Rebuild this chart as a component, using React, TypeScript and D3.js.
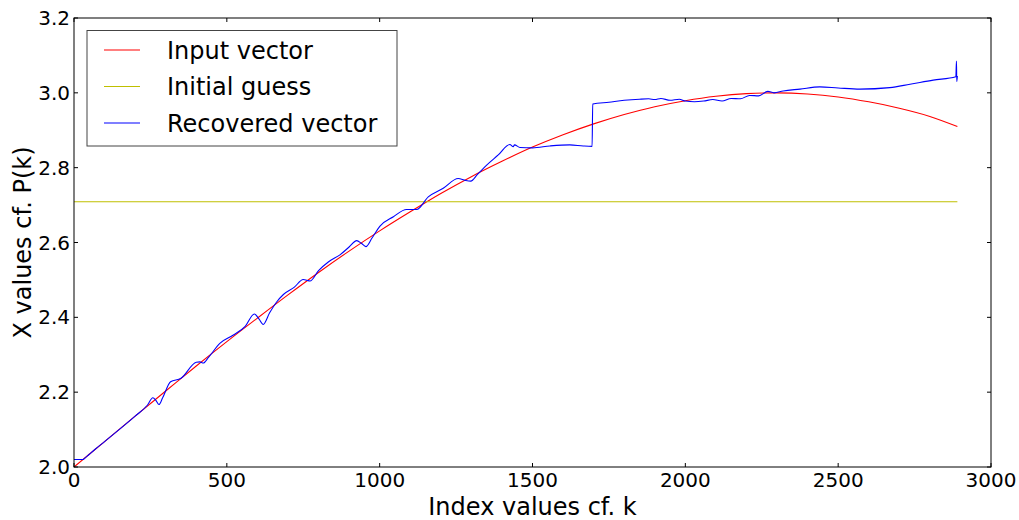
import React from "react";
import * as d3 from "d3";

const xTicks = [0, 500, 1000, 1500, 2000, 2500, 3000];
const yTicks = [2.0, 2.2, 2.4, 2.6, 2.8, 3.0, 3.2];

const inputX = [0, 100, 200, 300, 400, 500, 600, 700, 800, 900, 1000, 1100, 1200, 1300, 1400, 1500, 1600, 1700, 1800, 1900, 2000, 2100, 2200, 2300, 2400, 2500, 2600, 2700, 2800, 2890];
const inputY = [2.0, 2.068, 2.136, 2.203, 2.27, 2.335, 2.398, 2.46, 2.52, 2.577, 2.631, 2.682, 2.731, 2.776, 2.817, 2.855, 2.888, 2.917, 2.942, 2.963, 2.979, 2.991, 2.998, 3.0, 2.997, 2.989, 2.976, 2.959, 2.937, 2.91];

const guessX = [0, 2890];
const guessY = [2.709, 2.709];

const recX = [0, 30, 33, 50, 70, 100, 200, 240, 258, 268, 278, 290, 316, 350, 400, 412, 423, 440, 478, 520, 560, 590, 605, 619, 640, 663, 685, 720, 750, 762, 772, 800, 832, 870, 900, 925, 940, 955, 975, 1001, 1045, 1088, 1121, 1159, 1208, 1257, 1280, 1298, 1320, 1350, 1388, 1426, 1437, 1441, 1459, 1500, 1557, 1622, 1666, 1695, 1697, 1750, 1800, 1850, 1880, 1900, 1920, 1950, 1980, 2000, 2030, 2060, 2090, 2120, 2150, 2180, 2210, 2240, 2270, 2290, 2320, 2375, 2440, 2500, 2571, 2669, 2735, 2811, 2885, 2887, 2888, 2890];
const recY = [2.02, 2.02, 2.022, 2.034, 2.048, 2.068, 2.136, 2.165, 2.185, 2.178, 2.167, 2.185, 2.228, 2.237, 2.28, 2.281, 2.278, 2.293, 2.331, 2.352, 2.376, 2.409, 2.396, 2.381, 2.412, 2.441, 2.461, 2.48, 2.501, 2.499, 2.497, 2.525, 2.548, 2.567, 2.588, 2.605, 2.598, 2.589, 2.612, 2.644, 2.669, 2.688, 2.688, 2.722, 2.745, 2.771, 2.766, 2.764, 2.782, 2.807, 2.834, 2.862, 2.856, 2.861, 2.854, 2.853, 2.858, 2.861, 2.858, 2.857, 2.97, 2.975, 2.98, 2.983, 2.984, 2.982, 2.985, 2.98, 2.983, 2.978, 2.976, 2.978, 2.982, 2.978, 2.985, 2.984, 2.993, 2.992, 3.004, 3.0, 3.005, 3.01, 3.016, 3.013, 3.01, 3.014, 3.023, 3.034, 3.043, 3.085, 3.03, 3.045];

const legendLabels = ["Input vector", "Initial guess", "Recovered vector"];
const legendColors = ["#ff0000", "#bfbf00", "#0000ff"];

export default function App() {
  const W = 1019, H = 520;
  const L = 74, R = 991, T = 18, B = 467;
  const x = d3.scaleLinear().domain([0, 3000]).range([L, R]);
  const y = d3.scaleLinear().domain([2.0, 3.2]).range([B, T]);
  const line = d3.line<[number, number]>().x(d => x(d[0])).y(d => y(d[1]));
  const smooth = d3.line<[number, number]>().x(d => x(d[0])).y(d => y(d[1])).curve(d3.curveMonotoneX);
  const zip = (a: number[], b: number[]) => a.map((v, i) => [v, b[i]] as [number, number]);
  const font = "'DejaVu Sans', sans-serif";
  return (
    <svg width={W} height={H} style={{ position: "absolute", left: 0, top: 0, background: "#fff" }} fontFamily={font}>
      <rect x={0} y={0} width={W} height={H} fill="#fff" />
      <defs>
        <clipPath id="plotclip"><rect x={L} y={T} width={R - L} height={B - T} /></clipPath>
      </defs>
      <g clipPath="url(#plotclip)">
        <path d={smooth(zip(inputX, inputY)) || ""} fill="none" stroke={legendColors[0]} strokeWidth={1.1} />
        <path d={line(zip(guessX, guessY)) || ""} fill="none" stroke={legendColors[1]} strokeWidth={1.1} />
        <path d={smooth(zip(recX, recY)) || ""} fill="none" stroke={legendColors[2]} strokeWidth={1.1} />
      </g>
      <rect x={L} y={T} width={R - L} height={B - T} fill="none" stroke="#000" strokeWidth={1} />
      {xTicks.map(t => (
        <g key={"x" + t}>
          <line x1={x(t)} x2={x(t)} y1={B} y2={B - 4} stroke="#000" />
          <line x1={x(t)} x2={x(t)} y1={T} y2={T + 4} stroke="#000" />
          <text x={x(t)} y={B + 20} textAnchor="middle" fontSize={20} fill="#000">{t}</text>
        </g>
      ))}
      {yTicks.map(t => (
        <g key={"y" + t}>
          <line x1={L} x2={L + 4} y1={y(t)} y2={y(t)} stroke="#000" />
          <line x1={R} x2={R - 4} y1={y(t)} y2={y(t)} stroke="#000" />
          <text x={L - 4} y={y(t) + 7} textAnchor="end" fontSize={20} fill="#000">{t.toFixed(1)}</text>
        </g>
      ))}
      <text x={(L + R) / 2} y={515} textAnchor="middle" fontSize={24} fill="#000">Index values cf. k</text>
      <text transform={`translate(31,${(T + B) / 2}) rotate(-90)`} textAnchor="middle" fontSize={24} fill="#000">X values cf. P(k)</text>
      <rect x={87} y={30.5} width={310} height={115.5} fill="#fff" stroke="#444" strokeWidth={1} />
      {legendLabels.map((lab, i) => (
        <g key={lab}>
          <line x1={104} x2={140} y1={50 + i * 36.5} y2={50 + i * 36.5} stroke={legendColors[i]} strokeWidth={1.1} />
          <text x={167} y={50 + i * 36.5 + 8.5} fontSize={24} fill="#000">{lab}</text>
        </g>
      ))}
    </svg>
  );
}
